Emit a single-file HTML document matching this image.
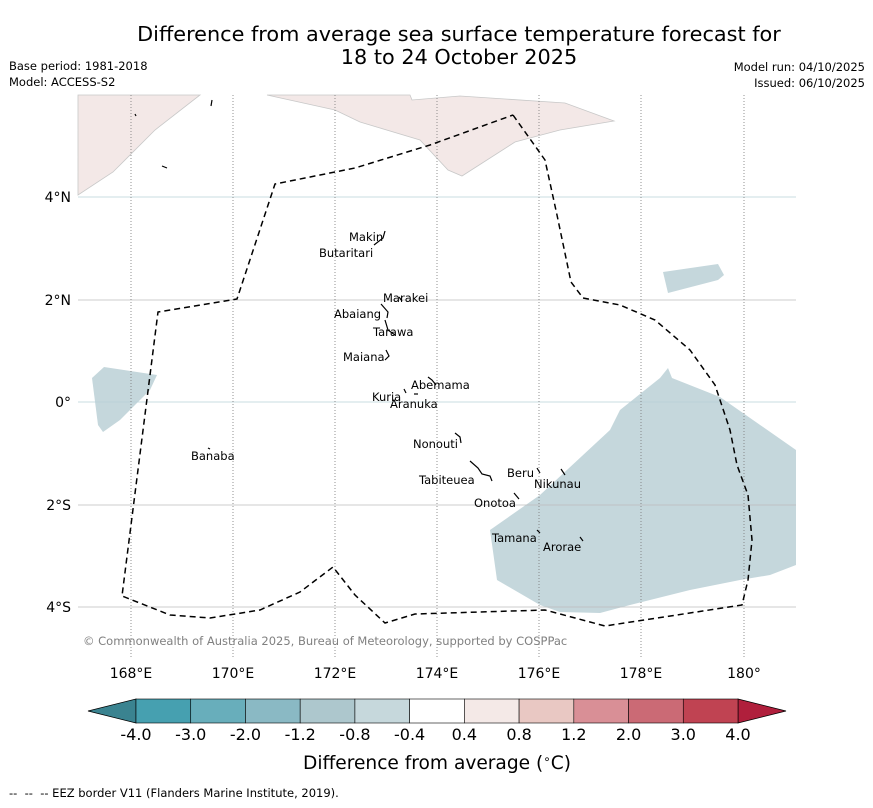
<!DOCTYPE html>
<html><head><meta charset="utf-8"><style>
body{margin:0;background:#fff;font-family:"DejaVu Sans","Liberation Sans",sans-serif}
svg text{font-family:"DejaVu Sans","Liberation Sans",sans-serif}
</style></head><body>
<svg width="873" height="804" viewBox="0 0 873 804">
<text x="459" y="41" font-size="20.8" text-anchor="middle">Difference from average sea surface temperature forecast for</text>
<text x="459" y="64" font-size="20.8" text-anchor="middle">18 to 24 October 2025</text>
<text x="9" y="70" font-size="11.5">Base period: 1981-2018</text>
<text x="9" y="86" font-size="11.5">Model: ACCESS-S2</text>
<text x="865" y="71" font-size="11.5" text-anchor="end">Model run: 04/10/2025</text>
<text x="865" y="87" font-size="11.5" text-anchor="end">Issued: 06/10/2025</text>
<g>
<polygon fill="#f3e8e7" stroke="#c8c8c8" stroke-width="0.8" points="78,95 200,95 155,130 113,172 78,195"/>
<polygon fill="#f3e8e7" stroke="#c8c8c8" stroke-width="0.8" points="267,95 335,110 360,122 420,140 448,170 462,176 515,142 560,130 614,121 565,103 460,96 412,100 410,95"/>
<polygon fill="#c5d7dc" points="92,378 104,367 157,375 150,390 120,420 103,432 98,425"/>
<polygon fill="#c5d7dc" points="663,272 718,264 724,275 718,280 668,293"/>
<polygon fill="#c5d7dc" points="490,530 540,495 610,430 620,410 660,378 668,368 672,378 720,397 796,450 796,565 770,575 740,580 690,590 630,605 600,613 560,612 540,605 497,580"/>
<g stroke="#bbb" stroke-width="0.8">
<line x1="78" x2="796" y1="197" y2="197" stroke="#b8d0d8"/><line x1="78" x2="796" y1="300" y2="300"/><line x1="78" x2="796" y1="402" y2="402" stroke="#b8d0d8"/><line x1="78" x2="796" y1="505" y2="505"/><line x1="78" x2="796" y1="607" y2="607"/>
</g>
<g stroke="#777" stroke-width="0.8" stroke-dasharray="1,2">
<line x1="131" x2="131" y1="95" y2="658"/><line x1="233" x2="233" y1="95" y2="658"/><line x1="335" x2="335" y1="95" y2="658"/><line x1="437" x2="437" y1="95" y2="658"/><line x1="539" x2="539" y1="95" y2="658"/><line x1="641" x2="641" y1="95" y2="658"/><line x1="744" x2="744" y1="95" y2="658"/>
</g>
<polyline fill="none" stroke="#000" stroke-width="1.5" stroke-dasharray="6,4" points="513,115 545,160 557,215 571,282 583,298 620,305 655,320 690,350 715,385 730,430 737,465 748,495 752,540 748,580 742,605 605,626 545,610 415,614 385,623 355,595 333,567 300,592 260,610 210,618 170,615 122,596 158,312 237,299 275,184 355,168 430,145 513,115"/>
<g stroke="#000" stroke-width="1.2" fill="none">
<path d="M385,231 L383,238 L374,245"/><path d="M381,304 L388,312 L387,318"/><path d="M399,297 L402,301"/><path d="M385,320 L388,330 L395,335"/><path d="M386,350 L389,356 L385,360"/><path d="M428,377 L432,380 L436,385"/><path d="M404,389 L406,393"/><path d="M414,394 L418,394"/><path d="M455,433 L460,437 L461,443"/><path d="M470,461 L478,468 L482,474 L490,476 L492,481"/><path d="M537,468 L540,473"/><path d="M561,469 L565,475"/><path d="M514,493 L519,499"/><path d="M537,530 L540,533"/><path d="M580,537 L583,541"/><path d="M208,448 L210,449"/><path d="M135,114 L136,116"/><path d="M162,166 L167,168"/><path d="M212,100 L211,106"/>
</g>
<g font-size="11.5">
<text x="349" y="241">Makin</text><text x="319" y="257">Butaritari</text><text x="383" y="302">Marakei</text><text x="334" y="318">Abaiang</text><text x="373" y="336">Tarawa</text><text x="343" y="361">Maiana</text><text x="411" y="389">Abemama</text><text x="372" y="401">Kuria</text><text x="390" y="408">Aranuka</text><text x="413" y="448">Nonouti</text><text x="191" y="460">Banaba</text><text x="507" y="477">Beru</text><text x="534" y="488">Nikunau</text><text x="419" y="484">Tabiteuea</text><text x="474" y="507">Onotoa</text><text x="492" y="542">Tamana</text><text x="543" y="551">Arorae</text>
</g>
<text x="83" y="645" font-size="11.5" fill="#808080">© Commonwealth of Australia 2025, Bureau of Meteorology, supported by COSPPac</text>
</g>
<g font-size="14" text-anchor="end">
<text x="71" y="202">4°N</text><text x="71" y="305">2°N</text><text x="71" y="407">0°</text><text x="71" y="510">2°S</text><text x="71" y="612">4°S</text>
</g>
<g font-size="14" text-anchor="middle">
<text x="131" y="678">168°E</text><text x="233" y="678">170°E</text><text x="335" y="678">172°E</text><text x="437" y="678">174°E</text><text x="539" y="678">176°E</text><text x="641" y="678">178°E</text><text x="744" y="678">180°</text>
</g>
<g id="cbar"></g>
<text x="437" y="769" font-size="18.6" text-anchor="middle">Difference from average (<tspan font-size="12" dy="-6">∘</tspan><tspan dy="6">C)</tspan></text>
<text x="9" y="797" font-size="11.5" xml:space="preserve">--  --  -- EEZ border V11 (Flanders Marine Institute, 2019).</text>
</svg>
<script>
const cbColors=["#46a0b0","#68aebb","#8ab9c4","#adc7cd","#c6d8dc","#ffffff","#f4e9e7","#e9c8c3","#d98f96","#cb6a75","#c04352"];
const cbLabels=["-4.0","-3.0","-2.0","-1.2","-0.8","-0.4","0.4","0.8","1.2","2.0","3.0","4.0"];
const g=document.getElementById('cbar');
const NS="http://www.w3.org/2000/svg";
const x0=136,x1=738,y0=699,y1=723,w=(x1-x0)/cbColors.length;
function mk(t,a){const e=document.createElementNS(NS,t);for(const k in a)e.setAttribute(k,a[k]);g.appendChild(e);return e;}
const lt=mk('polygon',{points:`88,711 ${x0},${y0} ${x0},${y1}`,fill:'#3a8390',stroke:'#000','stroke-width':0.8});


const rt=mk('polygon',{points:`786,711 ${x1},${y0} ${x1},${y1}`,fill:'#b01f3c',stroke:'#000','stroke-width':0.8});


cbColors.forEach((c,i)=>{
 const r=mk('rect',{x:x0+i*w,y:y0,width:w,height:y1-y0,fill:c,stroke:'#000','stroke-width':0.6});
 
 
});
cbLabels.forEach((l,i)=>{
 const t=mk('text',{x:x0+i*w,y:740,'font-size':16,'text-anchor':'middle'});
 t.textContent=l;
 
 
});
</script>
</body></html>
